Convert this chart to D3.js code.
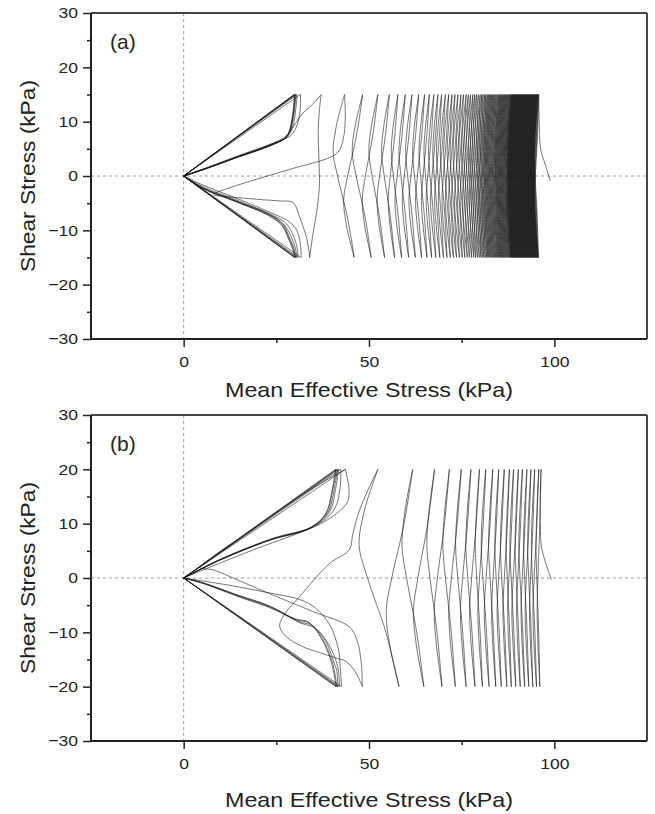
<!DOCTYPE html>
<html>
<head>
<meta charset="utf-8">
<script src="https://cdn.jsdelivr.net/npm/d3@7"></script>
<style>
  body { margin: 0; background: #fff; }
  text { font-family: "Liberation Sans", Arial, sans-serif; fill: #222; }
</style>
</head>
<body>
<svg id="chart" width="655" height="814"></svg>
<script>
// ---- data (p' and tau in kPa) ----
var xTicks = [0, 50, 100];
var xMinor = [25, 75];
var yTicks = [-30, -20, -10, 0, 10, 20, 30];
var yMinor = [-25, -15, -5, 5, 15, 25];

// panel (a): cyclic amplitude 15 kPa
var ampA = 15;
var startA = [[98.9, -0.9], [97.6, 2], [96.3, 5], [95.9, 10], [95.8, 15]];
// p' at successive stress peaks, +15, -15, +15, ... in time order
var revA = [
  95.80, 95.72, 95.65, 95.57, 95.50, 95.42, 95.35, 95.27, 95.20, 95.12,
  95.05, 94.97, 94.90, 94.82, 94.75, 94.67, 94.60, 94.52, 94.45, 94.37,
  94.30, 94.22, 94.15, 94.07, 94.00, 93.92, 93.85, 93.77, 93.70, 93.62,
  93.55, 93.47, 93.40, 93.32, 93.25, 93.17, 93.10, 93.02, 92.95, 92.87,
  92.80, 92.72, 92.65, 92.57, 92.50, 92.42, 92.35, 92.27, 92.20, 92.12,
  92.05, 91.97, 91.90, 91.82, 91.75, 91.67, 91.60, 91.52, 91.45, 91.37,
  91.30, 91.22, 91.15, 91.07, 91.00, 90.92, 90.85, 90.77, 90.70, 90.62,
  90.55, 90.47, 90.40, 90.32, 90.25, 90.17, 90.10, 90.02, 89.95, 89.87,
  89.80, 89.72, 89.65, 89.57, 89.50, 89.42, 89.35, 89.27, 89.20, 89.12,
  89.05, 88.97, 88.90, 88.82, 88.75, 88.67, 88.60, 88.52, 88.45, 88.37,
  88.30, 88.20, 88.10, 88.00, 87.90, 87.78, 87.65, 87.52, 87.40, 87.27,
  87.15, 87.02, 86.90, 86.77, 86.65, 86.52, 86.40, 86.27, 86.15, 86.02,
  85.90, 85.77, 85.65, 85.52, 85.40, 85.27, 85.15, 85.00, 84.90, 84.75,
  84.60, 84.45, 84.30, 84.15, 84.00, 83.85, 83.70, 83.55, 83.40, 83.25,
  83.10, 82.95, 82.80, 82.65, 82.50, 82.35, 82.20, 82.05, 81.90, 81.72,
  81.55, 81.37, 81.20, 81.00, 80.80, 80.60, 80.40, 80.20, 80.00, 79.75,
  79.50, 79.25, 79.00, 78.75, 78.50, 78.25, 78.00, 77.70, 77.40, 77.10,
  76.80, 76.50, 76.20, 75.85, 75.50, 75.15, 74.80, 74.40, 74.00, 73.60,
  73.20, 72.80, 72.40, 71.95, 71.50, 71.05, 70.60, 70.10, 69.60, 69.10,
  68.60, 68.05, 67.50, 66.90, 66.30, 65.65, 65.00, 64.20, 63.40, 62.50,
  61.60, 60.70, 59.80, 58.80, 57.80, 56.90, 55.50, 54.20, 52.40, 50.60,
  48.30, 46.00, 43.40];
// last cycles before the butterfly loops
var transA = [
  [[43.4, 15], [43.6, 10.5], [43.1, 7], [41.8, 4.5], [39.4, 3.4], [29, 1.3], [18.7, -0.8], [11, -2.5],
    [7.9, -3.4], [12, -3.8], [20, -4.3], [26, -4.6], [29.5, -4.9], [31.3, -7.6], [33.2, -11.5], [34.0, -15]],
  [[34.0, -15], [34.8, -11], [35.8, -7], [36.6, -2], [36.5, 3], [36.3, 8.3], [36.6, 12], [37.1, 15]],
  [[37.1, 15], [34.8, 13.2], [32.2, 11.6], [29.5, 9], [27.7, 7.4], [23, 5.7], [14.2, 3.5], [6, 1.4], [0, 0]]
];
// butterfly loops: peaks reached along the two failure lines
var failTopA = [31.5, 30.6, 30.3, 30.1, 30.0, 29.9, 29.8];
var failBotA = [31.7, 30.9, 30.5, 30.2, 30.0, 29.9];
var innerA = [
  [[31.5, 15], [31.4, 12], [30.4, 9], [28.8, 7.4], [24, 6], [15, 3.8], [6.5, 1.6], [0, 0]],
  [[30.6, 15], [30.2, 12], [29.3, 8.8], [27.8, 7.1], [23.4, 5.7], [14.4, 3.5], [6, 1.4], [0, 0]],
  [[30.3, 15], [29.8, 11.6], [28.8, 8.4], [27.5, 7], [23.2, 5.6], [14.2, 3.4], [6, 1.4], [0, 0]],
  [[30.1, 15], [29.6, 11.4], [28.6, 8.2], [27.4, 7], [23.2, 5.6], [14.2, 3.4], [6, 1.4], [0, 0]],
  [[30.0, 15], [29.5, 11.4], [28.5, 8.1], [27.2, 6.9], [23, 5.5], [14, 3.35], [6, 1.35], [0, 0]],
  [[29.9, 15], [29.4, 11.3], [28.3, 8], [27, 6.8], [22.8, 5.4], [14, 3.3], [6, 1.3], [0, 0]],
  [[31.7, -15], [31.4, -12], [30.2, -9.6], [28, -8.2], [24, -6.9], [15, -4.3], [6, -1.9], [0, 0]],
  [[30.9, -15], [30.4, -12.6], [29.2, -10.4], [27.4, -8.6], [23.6, -7.1], [14.6, -4.5], [5.6, -2.1], [0, 0]],
  [[30.5, -15], [30.1, -13.2], [28.9, -11], [26.9, -8.8], [23.2, -7.1], [14.2, -4.6], [5.2, -2.2], [0, 0]],
  [[30.2, -15], [29.8, -13.4], [28.6, -11.4], [26.8, -8.9], [23.2, -7.1], [14.2, -4.6], [5.2, -2.2], [0, 0]],
  [[30.0, -15], [29.6, -13.5], [28.4, -11.5], [26.6, -9], [23, -7.2], [14, -4.7], [5.1, -2.2], [0, 0]],
  [[29.9, -15], [29.5, -13.6], [28.3, -11.6], [26.5, -9.1], [22.9, -7.3], [14, -4.7], [5, -2.3], [0, 0]]
];

// panel (b): cyclic amplitude 20 kPa
var ampB = 20;
var startB = [[99.2, -0.3], [97.8, 2.5], [96.6, 5.5], [96.2, 10], [96.4, 20]];
var revB = [
  96.4, 96.1, 95.8, 95.2, 94.7, 94.2, 93.7, 93.1, 92.6, 92.0,
  91.4, 90.8, 90.3, 89.6, 89.0, 88.4, 87.9, 87.2, 86.5, 85.7,
  85.0, 84.2, 83.4, 82.4, 81.5, 80.6, 79.8, 78.6, 77.5, 76.2,
  74.9, 73.3, 71.7, 69.7, 67.7, 64.8, 61.8, 58.1, 52.4];
var transB = [
  [[52.4, 20], [49.6, 16], [47.2, 12], [45.6, 8], [44.7, 5.2], [39.4, 2.7], [31.3, -3.4], [26.8, -7.1],
    [25.9, -8.9], [27.7, -10.8], [32, -12.6], [36.1, -13.6], [41, -14.7], [43.9, -15.4], [46.5, -17.5], [48.2, -20]],
  [[48.2, -20], [47.9, -15.5], [46.8, -11.5], [44.7, -9], [35, -6.2], [25, -3.4], [15, -0.5], [7.9, 1.5],
    [4.5, 1.9], [8, 4], [15, 7.3], [25, 12.1], [35, 16.6], [43.6, 20]],
  [[43.6, 20], [44.6, 16.5], [44.2, 14], [42, 12.3], [37, 10], [30, 8], [20, 5.5], [10, 2.8], [0, 0]],
  [[42.6, -20], [42.2, -16], [41.8, -13.3], [39.5, -8.7], [35.5, -5.5], [31.5, -4], [22, -2.6], [12, -1.3], [0, 0]]
];
var failTopB = [43.6, 42.4, 41.8, 41.5, 41.2, 41.0];
var failBotB = [42.6, 42.0, 41.6, 41.3, 41.1];
var innerB = [
  [[42.4, 20], [42.2, 16.5], [40.6, 12.6], [35.5, 9.6], [24, 7.3], [10, 3.5], [0, 0]],
  [[41.8, 20], [41.0, 16.4], [39.4, 12.2], [34.8, 9.4], [23.6, 7.1], [9.9, 3.4], [0, 0]],
  [[41.5, 20], [40.6, 16.3], [38.9, 12], [34.3, 9.3], [23.4, 7.05], [9.8, 3.35], [0, 0]],
  [[41.2, 20], [40.2, 16.2], [38.5, 11.9], [34, 9.2], [23.2, 7], [9.7, 3.3], [0, 0]],
  [[41.0, 20], [40.0, 16.0], [38.2, 11.7], [33.6, 9.0], [23, 6.9], [9.6, 3.2], [0, 0]],
  [[42.0, -20], [41.6, -16.4], [39.2, -12.3], [35.6, -9.3], [31.6, -8.3], [24.4, -5.8], [15, -3.5], [5.6, -1.1], [0, 0]],
  [[41.6, -20], [41.3, -17], [40.8, -16], [38.4, -11.8], [34.8, -8.8], [31, -8.0], [23.8, -5.5], [14.6, -3.3], [5.4, -1.0], [0, 0]],
  [[41.3, -20], [41.2, -19.4], [40.2, -15.7], [37.6, -11.4], [34, -8.3], [30.4, -7.7], [23.2, -5.2], [14.2, -3.1], [5.2, -0.9], [0, 0]],
  [[41.1, -20], [40.9, -19], [39.8, -15.4], [37.2, -11.2], [33.6, -8.1], [30, -7.5], [23, -5.1], [14, -3.0], [5.1, -0.85], [0, 0]]
];

// how a half-cycle bows: progress along the half-cycle and the share of the bow at that point
var bendS = [0, 0.25, 0.5, 0.65, 0.8, 0.92, 1];
var bendF = [0, 0.3, 0.8, 1, 0.7, 0.3, 0];
var bowGain = 1.15;

// ---- drawing ----
var svg = d3.select("#chart");
var x = d3.scaleLinear().domain([-25, 125]).range([91, 647]);
var font = "'Liberation Sans', Arial, sans-serif";

// one half-cycle from a stress peak to the next, bowing toward low p'
function halfCycle(p0, t0, p1, bowMin) {
  var beta = bowGain * Math.abs(p0 - p1) + bowMin;
  return bendS.map(function(s, i) {
    return [p0 + (p1 - p0) * s - beta * bendF[i], t0 * (1 - 2 * s)];
  });
}

function stretch(sel, k) {
  sel.each(function() {
    d3.select(this).attr("textLength", this.getComputedTextLength() * k)
      .attr("lengthAdjust", "spacingAndGlyphs");
  });
}

function drawPanel(cfg) {
  var y = d3.scaleLinear().domain([-30, 30]).range([cfg.bottom, cfg.top]);
  var g = svg.append("g");

  // zero reference lines
  g.append("line")
    .attr("x1", x(0)).attr("x2", x(0))
    .attr("y1", y(30)).attr("y2", y(-30))
    .attr("stroke", "#9a9a9a").attr("stroke-width", 1).attr("stroke-dasharray", "3,3");
  g.append("line")
    .attr("x1", x(-25)).attr("x2", x(125))
    .attr("y1", y(0)).attr("y2", y(0))
    .attr("stroke", "#9a9a9a").attr("stroke-width", 1).attr("stroke-dasharray", "3,3");

  var line = d3.line().x(function(d) { return x(d[0]); }).y(function(d) { return y(d[1]); });
  var smooth = d3.line().x(function(d) { return x(d[0]); }).y(function(d) { return y(d[1]); })
    .curve(d3.curveCatmullRom.alpha(0.5));

  // half-cycles between successive peaks (even index = positive peak)
  var paths = [];
  for (var k = 0; k + 1 < cfg.rev.length; k++) {
    paths.push(halfCycle(cfg.rev[k], k % 2 === 0 ? cfg.amp : -cfg.amp, cfg.rev[k + 1], cfg.bowMin));
  }

  var pg = g.append("g").attr("fill", "none").attr("stroke", "#141414")
    .attr("stroke-width", 0.75).attr("stroke-opacity", 0.78);
  pg.append("path").attr("d", smooth(cfg.start));
  pg.selectAll("path.cyc").data(paths).enter().append("path")
    .attr("class", "cyc").attr("d", smooth);
  pg.selectAll("path.tr").data(cfg.trans).enter().append("path")
    .attr("class", "tr").attr("d", smooth);
  pg.selectAll("path.inner").data(cfg.inner).enter().append("path")
    .attr("class", "inner").attr("d", smooth);
  pg.selectAll("path.ft").data(cfg.failTop).enter().append("path")
    .attr("class", "ft").attr("d", function(p) { return line([[0, 0], [p, cfg.amp]]); });
  pg.selectAll("path.fb").data(cfg.failBot).enter().append("path")
    .attr("class", "fb").attr("d", function(p) { return line([[0, 0], [p, -cfg.amp]]); });

  // frame
  g.append("line").attr("x1", x(-25)).attr("x2", x(125)).attr("y1", y(30)).attr("y2", y(30))
    .attr("stroke", "#444").attr("stroke-width", 2);
  g.append("line").attr("x1", x(125)).attr("x2", x(125)).attr("y1", y(30)).attr("y2", y(-30))
    .attr("stroke", "#444").attr("stroke-width", 2);

  // axes
  var xAxis = g.append("g").attr("transform", "translate(0," + y(-30) + ")")
    .call(d3.axisBottom(x).tickValues(xTicks).tickSize(8).tickPadding(9).tickFormat(d3.format("d")));
  g.append("g").attr("transform", "translate(0," + y(-30) + ")")
    .call(d3.axisBottom(x).tickValues(xMinor).tickSize(4).tickFormat(""))
    .call(function(a) { a.select(".domain").remove(); });
  var yAxis = g.append("g").attr("transform", "translate(" + x(-25) + ",0)")
    .call(d3.axisLeft(y).tickValues(yTicks).tickSize(8).tickPadding(5));
  g.append("g").attr("transform", "translate(" + x(-25) + ",0)")
    .call(d3.axisLeft(y).tickValues(yMinor).tickSize(4).tickFormat(""))
    .call(function(a) { a.select(".domain").remove(); });

  g.selectAll(".domain").attr("stroke", "#222").attr("stroke-width", 2);
  g.selectAll(".tick line").attr("stroke", "#222").attr("stroke-width", 1.5);
  g.selectAll(".tick text").attr("font-size", 15.5).attr("fill", "#222").style("font-family", font);
  stretch(g.selectAll(".tick text"), 1.13);
  xAxis.select(".domain").attr("d", "M" + x(-25) + ",0H" + x(125));
  yAxis.select(".domain").attr("d", "M0," + y(30) + "V" + y(-30));

  // titles
  g.append("text").attr("x", (x(-25) + x(125)) / 2).attr("y", cfg.xTitleY)
    .attr("text-anchor", "middle").attr("font-size", 21)
    .attr("textLength", 288).attr("lengthAdjust", "spacingAndGlyphs")
    .text("Mean Effective Stress (kPa)");
  g.append("text").attr("transform", "translate(35," + (cfg.top + cfg.bottom) / 2 + ") rotate(-90)")
    .attr("text-anchor", "middle").attr("font-size", 21)
    .attr("textLength", 192).attr("lengthAdjust", "spacingAndGlyphs")
    .text("Shear Stress (kPa)");
  g.append("text").attr("x", 110).attr("y", cfg.top + 36)
    .attr("font-size", 21).text(cfg.label);
}

drawPanel({ top: 13, bottom: 339, amp: ampA, start: startA, rev: revA, bowMin: 1.0,
  trans: transA, inner: innerA, failTop: failTopA, failBot: failBotA,
  xTitleY: 397, label: "(a)" });
drawPanel({ top: 415, bottom: 741, amp: ampB, start: startB, rev: revB, bowMin: 0.5,
  trans: transB, inner: innerB, failTop: failTopB, failBot: failBotB,
  xTitleY: 807, label: "(b)" });
</script>
</body>
</html>
